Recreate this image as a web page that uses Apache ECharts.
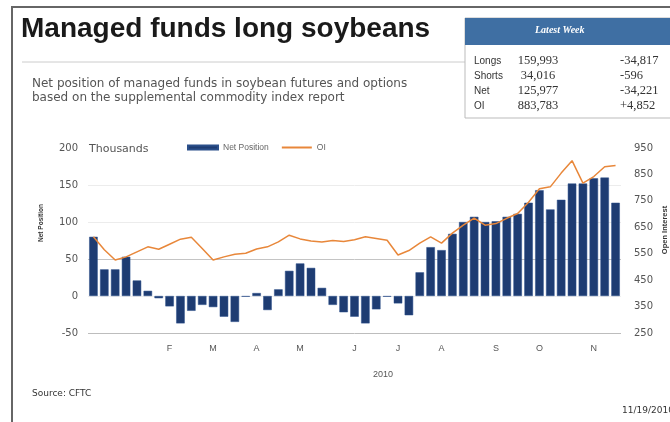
<!DOCTYPE html>
<html>
<head>
<meta charset="utf-8">
<script src="https://cdn.jsdelivr.net/npm/echarts@6/dist/echarts.min.js"></script>
<style>
  html, body { margin: 0; padding: 0; background: #fff; }
  #chart { width: 670px; height: 422px; }
</style>
</head>
<body>
<div id="chart"></div>
<script>
  // weekly report dates, Dec 2009 - Nov 2010
  const weeks = [
    '12/15', '12/22', '12/29', '01/05', '01/12', '01/19', '01/26', '02/02', '02/09', '02/16',
    '02/23', '03/02', '03/09', '03/16', '03/23', '03/30', '04/06', '04/13', '04/20', '04/27',
    '05/04', '05/11', '05/18', '05/25', '06/01', '06/08', '06/15', '06/22', '06/29', '07/06',
    '07/13', '07/20', '07/27', '08/03', '08/10', '08/17', '08/24', '08/31', '09/07', '09/14',
    '09/21', '09/28', '10/05', '10/12', '10/19', '10/26', '11/02', '11/09', '11/16'
  ]
  // month letter shown under a week, '' for none
  const monthTicks = [
    '', '', '', '', '', '', '', 'F', '', '',
    '', 'M', '', '', '', 'A', '', '', '', 'M',
    '', '', '', '', 'J', '', '', '', 'J', '',
    '', '', 'A', '', '', '', '', 'S', '', '',
    '', 'O', '', '', '', '', 'N', '', ''
  ]
  // net position, thousands of contracts
  const netPosition = [
    80, 36, 36, 53, 21, 7, -3, -14, -37, -20,
    -12, -15, -28, -35, -1, 4, -19, 9, 34, 44,
    38, 11, -12, -22, -28, -37, -18, -1, -10, -26,
    32, 66, 62, 84, 100, 107, 100, 101, 107, 111,
    126, 143, 117, 130, 152, 152, 159, 160, 126
  ]
  // open interest, thousands of contracts
  const openInterest = [
    614, 565, 526, 538, 557, 576, 567, 586, 605, 612,
    570, 526, 538, 548, 552, 568, 576, 595, 620, 606,
    598, 594, 600, 596, 603, 614, 608, 601, 545, 562,
    590, 614, 590, 628, 658, 685, 658, 664, 684, 702,
    745, 796, 803, 855, 902, 817, 842, 879, 884
  ]
  const leftTicks = [-50, 200, 50]
  const rightTicks = [250, 950, 100]

  const tableRows = [
    ['Longs', '159,993', '-34,817'],
    ['Shorts', '34,016', '-596'],
    ['Net', '125,977', '-34,221'],
    ['OI', '883,783', '+4,852']
  ]

  const chart = echarts.init(document.getElementById('chart'))
  const grey = '#555'
  const sans = '"Liberation Sans", Arial, sans-serif'
  const wide = '"DejaVu Sans", sans-serif'
  const serif = '"Liberation Serif", serif'

  const tableTexts = []
  tableRows.forEach(function (row, i) {
    const y = 54 + i * 15
    tableTexts.push(
      {type: 'text', left: 474, top: y + 2, style: {text: row[0], font: '10px ' + sans, fill: '#333'}},
      {type: 'text', x: 538, y: y, style: {text: row[1], font: '12.5px ' + serif, fill: '#333', align: 'center'}},
      {type: 'text', left: 620, top: y, style: {text: row[2], font: '12.5px ' + serif, fill: '#333'}}
    )
  })

  const option = {
    animation: false,
    textStyle: {fontFamily: sans},
    graphic: [
      {type: 'rect', shape: {x: 12, y: 7, width: 670, height: 420}, style: {fill: 'none', stroke: '#666', lineWidth: 2}},
      {type: 'text', left: 21, top: 15, style: {text: 'Managed funds long soybeans', font: 'bold 28px ' + sans, fill: '#1a1a1a'}},
      {type: 'line', shape: {x1: 22, y1: 62, x2: 468, y2: 62}, style: {stroke: '#ccc', lineWidth: 1}},
      {type: 'text', left: 32, top: 77, style: {text: 'Net position of managed funds in soybean futures and options\nbased on the supplemental commodity index report', font: '12px ' + wide, fill: grey, lineHeight: 14}},
      {type: 'rect', shape: {x: 465, y: 18, width: 220, height: 100}, style: {fill: '#fff', stroke: '#bbb', lineWidth: 1}},
      {type: 'rect', shape: {x: 465, y: 18, width: 220, height: 27}, style: {fill: '#3f6fa3'}},
      {type: 'text', left: 535, top: 25, style: {text: 'Latest Week', font: 'italic bold 10px ' + serif, fill: '#fff'}},
      ...tableTexts,
      {type: 'text', left: 89, top: 144, style: {text: 'Thousands', font: '11px ' + wide, fill: grey}},
      {type: 'text', x: 41, y: 223, rotation: Math.PI / 2, style: {text: 'Net Position', font: 'bold 6.5px ' + sans, fill: '#333', align: 'center', verticalAlign: 'middle'}},
      {type: 'text', x: 665, y: 230, rotation: Math.PI / 2, style: {text: 'Open Interest', font: 'bold 7.5px ' + sans, fill: '#333', align: 'center', verticalAlign: 'middle'}},
      {type: 'text', left: 373, top: 370, style: {text: '2010', font: '9px ' + sans, fill: grey}},
      {type: 'text', left: 32, top: 389, style: {text: 'Source: CFTC', font: '9px ' + wide, fill: '#333'}},
      {type: 'text', left: 622, top: 406, style: {text: '11/19/2010', font: '9px ' + wide, fill: '#333'}}
    ],
    legend: {
      left: 187,
      top: 143,
      padding: 0,
      itemGap: 12,
      itemWidth: 30,
      itemHeight: 4,
      textStyle: {fontSize: 8.5, color: '#666'},
      data: [
        {name: 'Net Position', icon: 'rect', itemStyle: {color: '#1e3c72'}},
        {name: 'OI', itemStyle: {opacity: 0}}
      ]
    },
    grid: {left: 88, right: 49, top: 148, bottom: 89, outerBoundsMode: 'none'},
    xAxis: {
      type: 'category',
      data: weeks,
      axisLine: {show: false},
      axisTick: {show: false},
      axisLabel: {
        interval: 0,
        margin: 11,
        fontSize: 9,
        color: grey,
        formatter: function (v, i) { return monthTicks[i] }
      }
    },
    yAxis: [
      {
        type: 'value',
        min: leftTicks[0],
        max: leftTicks[1],
        interval: leftTicks[2],
        axisLabel: {fontSize: 10, fontFamily: wide, color: grey, margin: 10},
        axisLine: {show: false},
        axisTick: {show: false},
        splitLine: {lineStyle: {color: ['#bdbdbd', '#eeeeee', '#c4c4c4', '#ececec', '#ececec', 'rgba(0,0,0,0)']}}
      },
      {
        type: 'value',
        min: rightTicks[0],
        max: rightTicks[1],
        interval: rightTicks[2],
        axisLabel: {fontSize: 10, fontFamily: wide, color: grey, margin: 13},
        axisLine: {show: false},
        axisTick: {show: false},
        splitLine: {show: false}
      }
    ],
    series: [
      {
        name: 'Net Position',
        type: 'bar',
        data: netPosition,
        barCategoryGap: '22%',
        itemStyle: {color: '#1e3c72', borderColor: '#2b4f8a', borderWidth: 0.5}
      },
      {
        name: 'OI',
        type: 'line',
        yAxisIndex: 1,
        data: openInterest,
        symbol: 'none',
        lineStyle: {color: '#e8873a', width: 1.5}
      }
    ]
  }

  chart.setOption(option)
</script>
</body>
</html>
